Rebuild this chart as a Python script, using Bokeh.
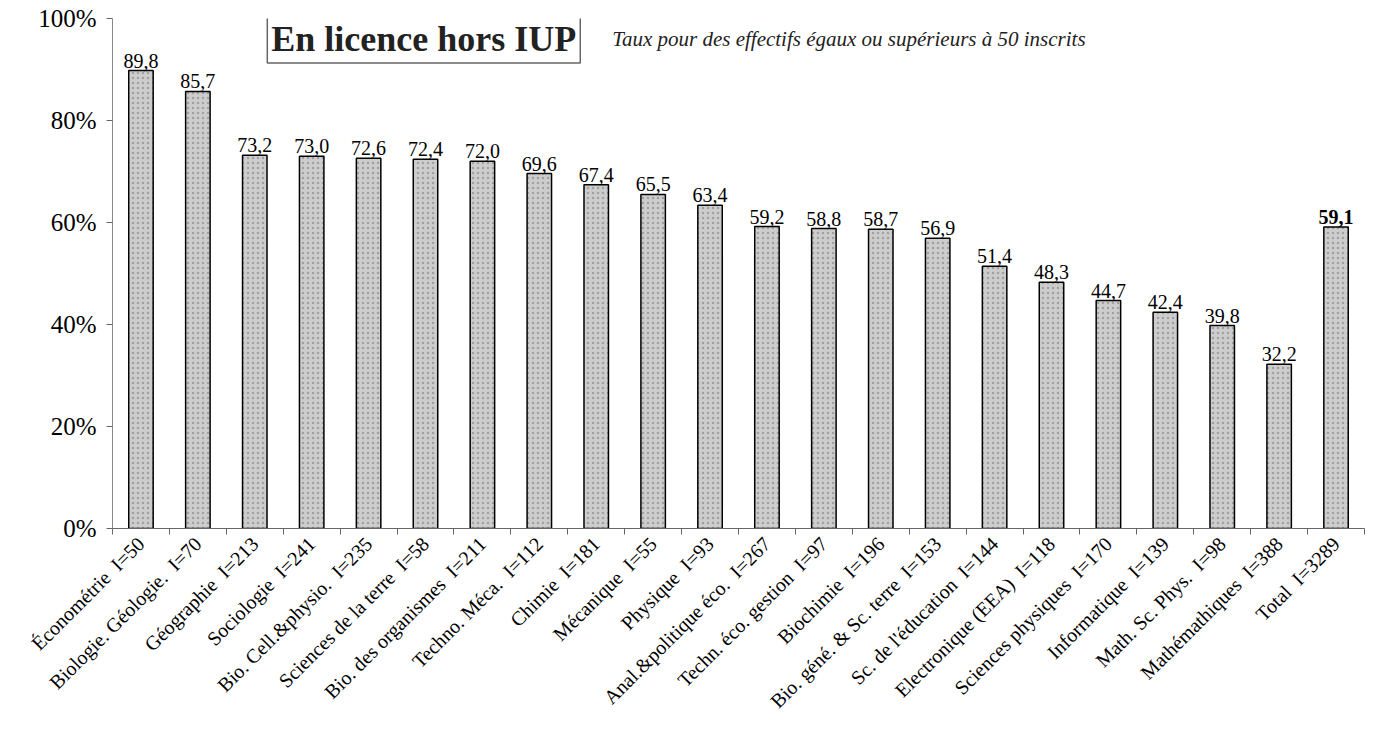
import math
from bokeh.plotting import figure
from bokeh.models import ColumnDataSource, FixedTicker, Label, PrintfTickFormatter, Range1d
from bokeh.core.properties import value
from bokeh.embed import file_html
from bokeh.resources import INLINE

categories = ["Économétrie", "Biologie. Géologie.", "Géographie", "Sociologie", "Bio. Cell.&physio.",
              "Sciences de la terre", "Bio. des organismes", "Techno. Méca.", "Chimie", "Mécanique",
              "Physique", "Anal.&politique éco.", "Techn. éco. gestion", "Biochimie",
              "Bio. géné. & Sc. terre", "Sc. de l'éducation", "Electronique (EEA)",
              "Sciences physiques", "Informatique", "Math. Sc. Phys.", "Mathémathiques", "Total"]
inscrits = [50, 70, 213, 241, 235, 58, 211, 112, 181, 55, 93, 267, 97, 196, 153, 144, 118, 170, 139, 98, 388, 3289]
taux = [89.8, 85.7, 73.2, 73.0, 72.6, 72.4, 72.0, 69.6, 67.4, 65.5, 63.4, 59.2, 58.8, 58.7, 56.9,
        51.4, 48.3, 44.7, 42.4, 39.8, 32.2, 59.1]
y_ticks = [0, 20, 40, 60, 80, 100]
title_text = "En licence hors IUP"
subtitle_text = "Taux pour des effectifs égaux ou supérieurs à 50 inscrits"

n = len(categories)
xs = [i + 0.5 for i in range(n)]
labels = [f"{c}\u00a0\u00a0I={k}" for c, k in zip(categories, inscrits)]
txt = [f"{v:.1f}".replace(".", ",") for v in taux]
styles = ["bold" if c == "Total" else "normal" for c in categories]

src = ColumnDataSource(dict(x=xs, top=taux, txt=txt, style=styles))

SERIF = "'Liberation Serif', 'Times New Roman', serif"

W, H = 1372, 724
p = figure(width=W, height=H, output_backend="svg", toolbar_location=None,
           x_range=Range1d(0, n), y_range=Range1d(0, 100),
           min_border_left=112, min_border_right=8, min_border_top=18, min_border_bottom=196)
p.outline_line_color = None
p.xgrid.visible = False
p.ygrid.visible = False

p.vbar(x="x", top="top", bottom=0, width=0.43, source=src,
       fill_color="#cdcdcd", line_color="black", line_width=1.5,
       hatch_pattern=".", hatch_color="#8c8c8c", hatch_scale=5, hatch_alpha=0.7)

p.text(x="x", y="top", text="txt", source=src, text_align="center", text_baseline="bottom",
       y_offset=-3, text_font=value("Liberation Serif"), text_font_size="20px",
       text_font_style="style", text_color="black")

# x axis
p.xaxis.ticker = FixedTicker(ticks=xs, minor_ticks=list(range(n + 1)))
p.xaxis.major_label_overrides = {x: l for x, l in zip(xs, labels)}
p.xaxis.major_label_orientation = math.pi / 4
p.xaxis.major_tick_out = 0
p.xaxis.major_tick_in = 0
p.xaxis.minor_tick_out = 6
p.xaxis.minor_tick_in = 0
p.xaxis.minor_tick_line_color = "#666666"
p.xaxis.axis_line_color = "#666666"
p.xaxis.major_label_text_font = "Liberation Serif"
p.xaxis.major_label_text_font_size = "20px"
p.xaxis.major_label_text_color = "black"
p.xaxis.major_label_standoff = 6

# y axis
p.yaxis.ticker = FixedTicker(ticks=y_ticks)
p.yaxis.formatter = PrintfTickFormatter(format="%d%%")
p.yaxis.minor_tick_line_color = None
p.yaxis.major_tick_out = 6
p.yaxis.major_tick_in = 0
p.yaxis.axis_line_color = "#888888"
p.yaxis.major_tick_line_color = "#666666"
p.yaxis.major_label_text_font = "Liberation Serif"
p.yaxis.major_label_text_font_size = "25px"
p.yaxis.major_label_text_color = "black"
p.yaxis.major_label_standoff = 10

p.add_layout(Label(x=5.47, y=96.0, text=title_text, text_align="center", text_baseline="middle",
                   text_font=SERIF, text_font_size="36px", text_font_style="bold",
                   text_color="#222222", background_fill_color="white",
                   border_line_color="#666666", border_line_width=1.5, padding=4))
p.add_layout(Label(x=8.78, y=96.0, text=subtitle_text, text_align="left", text_baseline="middle",
                   text_font=SERIF, text_font_size="21px", text_font_style="italic",
                   text_color="#222222"))

open("out.html", "w").write(file_html(p, INLINE))
